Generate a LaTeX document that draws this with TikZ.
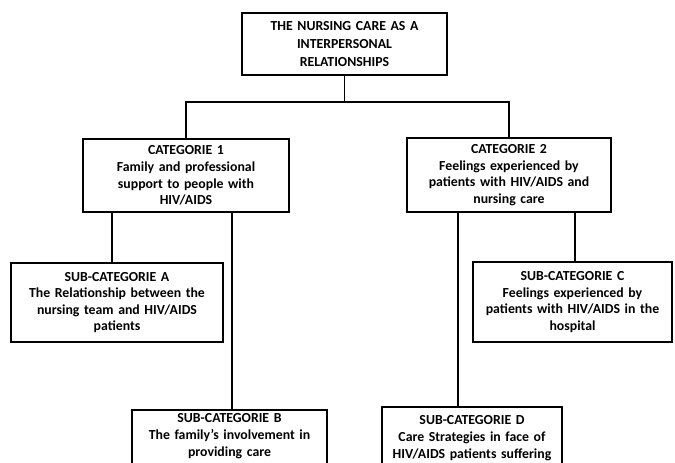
\documentclass[tikz,border=0pt]{standalone}
\usepackage{fontspec}
\setmainfont{Carlito}
\begin{document}
\begin{tikzpicture}[x=1pt,y=-1pt,
   box/.style={draw,line width=1.6pt,align=center,inner xsep=4pt,inner ysep=0pt,
     font=\bfseries\fontsize{13.8}{16.6}\selectfont},
   link/.style={line width=1.3pt}]
   \clip (0,0) rectangle (675,463);

   % 枠
   \node[box,text width=197pt,minimum height=62pt,font=\bfseries\fontsize{13.8}{18}\selectfont] (top) at (344.5,44)
     {THE NURSING CARE AS A\\INTERPERSONAL\\RELATIONSHIPS};
   \node[box,text width=198pt,minimum height=73pt] (cat1) at (186,175.5)
     {CATEGORIE 1\\Family and professional\\support to people with\\HIV/AIDS};
   \node[box,text width=196pt,minimum height=74pt] (cat2) at (509,175)
     {CATEGORIE 2\\Feelings experienced by\\patients with HIV/AIDS and\\nursing care};
   \node[box,text width=204pt,minimum height=79pt] (suba) at (117,302.5)
     {SUB-CATEGORIE A\\The Relationship between the\\nursing team and HIV/AIDS\\patients};
   \node[box,text width=191pt,minimum height=80pt] (subc) at (572.5,302)
     {SUB-CATEGORIE C\\Feelings experienced by\\patients with HIV/AIDS in the\\hospital};
   \node[box,text width=187pt,anchor=north,inner ysep=4pt,text depth=40pt] (subb) at (229.5,409)
     {SUB-CATEGORIE B\\The family's involvement in\\providing care};
   \node[box,text width=172pt,anchor=north,inner ysep=9pt,text depth=40pt] (subd) at (472,406)
     {SUB-CATEGORIE D\\Care Strategies in face of\\HIV/AIDS patients suffering};

   % 連結線
   \coordinate (bus) at (344.5,102);
   \draw[link] (top.south) -- (bus);
   \draw[link] (cat1.north) |- (bus) -| (cat2.north);
   \draw[link] (cat1.south -| 112,0) -- (suba.north -| 112,0);
   \draw[link] (cat1.south -| 232,0) -- (subb.north -| 232,0);
   \draw[link] (cat2.south -| 458,0) -- (subd.north -| 458,0);
   \draw[link] (cat2.south -| 575,0) -- (subc.north -| 575,0);

\end{tikzpicture}
\end{document}
